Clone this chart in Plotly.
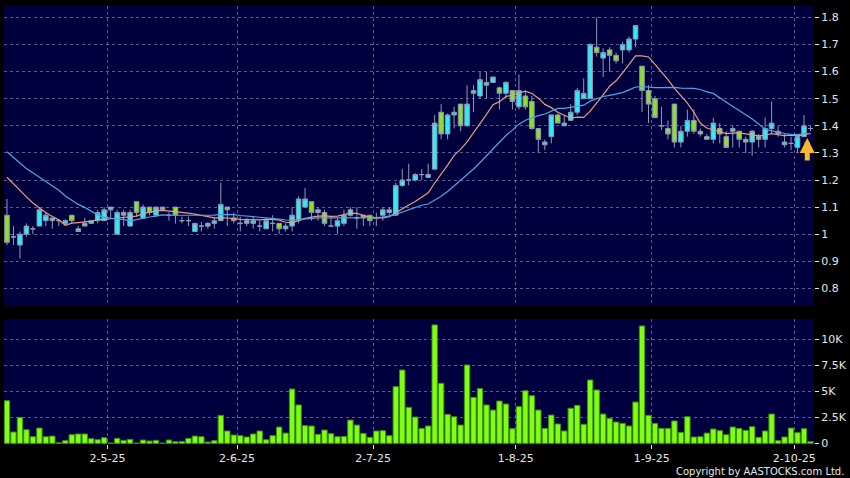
import pandas as pd
import plotly.graph_objects as go

# ---------------- data ----------------
hk_holidays = ["2025-04-18", "2025-04-21", "2025-05-01", "2025-05-05", "2025-07-01", "2025-10-01"]
dates = [d for d in pd.bdate_range("2025-04-07", "2025-10-06") if d.strftime("%Y-%m-%d") not in hk_holidays]

opens = [1.07, 0.99, 0.96, 1.00, 1.02, 1.03, 1.05, 1.05, 1.05, 1.04,
         1.07, 1.02, 1.04, 1.04, 1.05, 1.05, 1.09, 1.00, 1.08, 1.03,
         1.12, 1.06, 1.10, 1.07, 1.09, 1.07, 1.10, 1.05, 1.05, 1.01,
         1.03, 1.03, 1.04, 1.05, 1.10, 1.06, 1.04, 1.05, 1.04, 1.03,
         1.02, 1.04, 1.04, 1.02, 1.03, 1.05, 1.10, 1.12, 1.08, 1.08,
         1.03, 1.03, 1.04, 1.07, 1.06, 1.07, 1.07, 1.06, 1.07, 1.08,
         1.07, 1.18, 1.20, 1.20, 1.22, 1.21, 1.24, 1.45, 1.37, 1.44,
         1.48, 1.40, 1.53, 1.51, 1.55, 1.56, 1.54, 1.52, 1.53, 1.47,
         1.51, 1.49, 1.39, 1.33, 1.36, 1.44, 1.40, 1.42, 1.45, 1.50,
         1.50, 1.69, 1.65, 1.68, 1.66, 1.68, 1.68, 1.72, 1.62, 1.53,
         1.50, 1.40, 1.39, 1.48, 1.34, 1.38, 1.42, 1.38, 1.36, 1.35,
         1.39, 1.36, 1.38, 1.38, 1.35, 1.34, 1.36, 1.35, 1.39, 1.38,
         1.33, 1.335, 1.32, 1.36, 1.39]
highs = [1.13, 1.03, 1.01, 1.04, 1.03, 1.10, 1.08, 1.06, 1.05, 1.055,
         1.07, 1.03, 1.06, 1.05, 1.09, 1.10, 1.10, 1.09, 1.09, 1.09,
         1.12, 1.11, 1.10, 1.10, 1.10, 1.08, 1.10, 1.065, 1.065, 1.04,
         1.045, 1.045, 1.06, 1.19, 1.10, 1.08, 1.065, 1.06, 1.065, 1.05,
         1.06, 1.07, 1.04, 1.04, 1.10, 1.14, 1.17, 1.12, 1.10, 1.09,
         1.065, 1.06, 1.09, 1.10, 1.10, 1.07, 1.07, 1.08, 1.10, 1.10,
         1.19, 1.24, 1.26, 1.225, 1.24, 1.26, 1.44, 1.48, 1.445, 1.47,
         1.48, 1.55, 1.55, 1.60, 1.60, 1.58, 1.545, 1.565, 1.53, 1.59,
         1.53, 1.51, 1.39, 1.35, 1.44, 1.445, 1.44, 1.48, 1.54, 1.575,
         1.705, 1.80, 1.686, 1.69, 1.67, 1.71, 1.73, 1.77, 1.62, 1.55,
         1.51, 1.47, 1.42, 1.48, 1.40, 1.46, 1.46, 1.39, 1.37, 1.43,
         1.41, 1.38, 1.40, 1.38, 1.36, 1.385, 1.37, 1.43, 1.49, 1.40,
         1.37, 1.36, 1.37, 1.44, 1.40]
lows = [0.96, 0.96, 0.91, 0.99, 1.00, 1.03, 1.03, 1.02, 1.03, 1.03,
        1.04, 1.01, 1.03, 1.04, 1.04, 1.05, 1.06, 1.00, 1.03, 1.03,
        1.065, 1.06, 1.07, 1.07, 1.09, 1.05, 1.04, 1.04, 1.03, 1.01,
        1.01, 1.02, 1.02, 1.05, 1.03, 1.04, 1.01, 1.03, 1.02, 1.01,
        1.02, 1.01, 1.00, 1.01, 1.01, 1.04, 1.10, 1.05, 1.05, 1.03,
        1.03, 1.00, 1.03, 1.065, 1.02, 1.03, 1.03, 1.03, 1.05, 1.065,
        1.07, 1.175, 1.18, 1.195, 1.20, 1.21, 1.24, 1.35, 1.35, 1.39,
        1.38, 1.40, 1.45, 1.50, 1.50, 1.56, 1.46, 1.50, 1.46, 1.46,
        1.46, 1.385, 1.30, 1.31, 1.335, 1.41, 1.40, 1.42, 1.44, 1.50,
        1.50, 1.655, 1.58, 1.60, 1.63, 1.63, 1.67, 1.69, 1.45, 1.41,
        1.43, 1.385, 1.35, 1.32, 1.32, 1.36, 1.37, 1.36, 1.35, 1.335,
        1.335, 1.32, 1.32, 1.32, 1.30, 1.29, 1.32, 1.32, 1.37, 1.36,
        1.32, 1.31, 1.30, 1.36, 1.38]
closes = [0.97, 0.99, 1.00, 1.03, 1.02, 1.09, 1.07, 1.06, 1.05, 1.05,
          1.05, 1.01, 1.03, 1.05, 1.08, 1.09, 1.10, 1.08, 1.07, 1.08,
          1.08, 1.10, 1.08, 1.10, 1.10, 1.07, 1.07, 1.05, 1.05, 1.04,
          1.03, 1.04, 1.05, 1.11, 1.09, 1.05, 1.04, 1.04, 1.05, 1.03,
          1.05, 1.04, 1.02, 1.03, 1.07, 1.13, 1.13, 1.08, 1.09, 1.04,
          1.03, 1.05, 1.07, 1.09, 1.06, 1.06, 1.05, 1.06, 1.09, 1.09,
          1.18, 1.20, 1.20, 1.22, 1.22, 1.22, 1.41, 1.37, 1.44, 1.45,
          1.40, 1.48, 1.52, 1.57, 1.56, 1.58, 1.52, 1.56, 1.49, 1.53,
          1.47, 1.39, 1.35, 1.34, 1.44, 1.41, 1.41, 1.45, 1.53, 1.52,
          1.70, 1.67, 1.67, 1.66, 1.64, 1.70, 1.72, 1.77, 1.53, 1.48,
          1.43, 1.40, 1.37, 1.34, 1.38, 1.42, 1.38, 1.37, 1.35, 1.41,
          1.37, 1.32, 1.39, 1.35, 1.34, 1.38, 1.35, 1.39, 1.41, 1.37,
          1.34, 1.335, 1.36, 1.40, 1.39]
volumes = [4100, 1090, 2500, 1310, 640, 1470, 640, 700, 60, 260,
           830, 900, 900, 450, 350, 545, 30, 480, 290, 385,
           30, 320, 225, 290, 30, 320, 160, 190, 480, 700,
           640, 130, 260, 2690, 1190, 800, 740, 610, 900, 1190,
           350, 740, 1570, 990, 5220, 3690, 1700, 1670, 870, 1280,
           930, 640, 670, 2240, 1760, 960, 580, 1190, 1220, 740,
           5450, 7050, 3460, 2530, 1440, 1670, 11380, 5770, 2790, 2560,
           1760, 7530, 4420, 5260, 3690, 3200, 4070, 3780, 1410, 3530,
           5060, 4580, 3200, 1440, 2720, 1860, 1190, 3370, 3650, 1830,
           6090, 5130, 2820, 2400, 2050, 1920, 1670, 3970, 11280, 2690,
           1920, 1440, 1440, 2150, 1060, 2560, 610, 640, 990, 1380,
           1220, 830, 1570, 1440, 1250, 1600, 580, 1190, 2820, 260,
           610, 1470, 1030, 1410, 160]
# moving-average values at the start of the window (history before the window)
ma10_lead = [1.21, 1.185, 1.163, 1.138, 1.115, 1.097, 1.079, 1.065, 1.053]
ma20_lead = [1.304, 1.285, 1.263, 1.242, 1.226, 1.211, 1.197, 1.180, 1.162, 1.141,
             1.125, 1.110, 1.099, 1.086, 1.071, 1.062, 1.058, 1.056, 1.055]

price_ticks = [0.8, 0.9, 1.0, 1.1, 1.2, 1.3, 1.4, 1.5, 1.6, 1.7, 1.8]
price_tick_text = ["0.8", "0.9", "1", "1.1", "1.2", "1.3", "1.4", "1.5", "1.6", "1.7", "1.8"]
vol_ticks = [0, 2500, 5000, 7500, 10000]
vol_tick_text = ["0", "2.5K", "5K", "7.5K", "10K"]
month_labels = ["2-5-25", "2-6-25", "2-7-25", "1-8-25", "1-9-25", "2-10-25"]
signal_price = 1.355

# ---------------- derived ----------------
n = len(dates)
idx = list(range(n))
cs = pd.Series(closes)
ma10 = list(ma10_lead) + list(cs.rolling(10).mean().iloc[len(ma10_lead):])
ma20 = list(ma20_lead) + list(cs.rolling(20).mean().iloc[len(ma20_lead):])

# first trading day of each month (after the first month in view) -> boundary before it
month_starts = [i for i in range(1, n) if dates[i].month != dates[i - 1].month]
month_tickvals = [i - 0.5 for i in month_starts]

BG = "#00003F"
GRID = "rgba(150,150,210,0.6)"
TXT = "#E6E6E6"
FONT = "DejaVu Sans"

fig = go.Figure()
fig.add_trace(go.Candlestick(
    x=idx, open=opens, high=highs, low=lows, close=closes,
    increasing=dict(fillcolor="#30EAF6", line=dict(color="#8E9AB2", width=1)),
    decreasing=dict(fillcolor="#8CE02A", line=dict(color="#8E9AB2", width=1)),
    whiskerwidth=0, xaxis="x", yaxis="y", showlegend=False,
))
fig.add_trace(go.Scatter(x=idx, y=ma10, mode="lines", line=dict(color="#E89C7C", width=1.2),
                         xaxis="x", yaxis="y", showlegend=False))
fig.add_trace(go.Scatter(x=idx, y=ma20, mode="lines", line=dict(color="#4AA6E4", width=1.2),
                         xaxis="x", yaxis="y", showlegend=False))
fig.add_trace(go.Bar(x=idx, y=volumes, marker=dict(color="#80FF12", line=dict(color="#3F8F12", width=1)),
                     xaxis="x2", yaxis="y2", showlegend=False))

xr = [-0.46, n - 0.46]
common_x = dict(range=xr, tickmode="array", tickvals=month_tickvals, showgrid=True, gridcolor=GRID,
                griddash="3px,3px", gridwidth=1, zeroline=False, showline=False, fixedrange=True)
fig.update_layout(
    width=850, height=478,
    margin=dict(l=4, r=36, t=6, b=34),
    paper_bgcolor="black", plot_bgcolor=BG,
    font=dict(family=FONT, size=11, color=TXT),
    bargap=0.17, boxgap=0.3, boxgroupgap=0,
    xaxis=dict(domain=[0, 1], anchor="y", showticklabels=False, ticks="", rangeslider=dict(visible=False),
               **common_x),
    xaxis2=dict(domain=[0, 1], anchor="y2", ticktext=month_labels, showticklabels=True, ticks="outside",
                ticklen=4, tickcolor=TXT, tickfont=dict(family=FONT, size=11, color=TXT), **common_x),
    yaxis=dict(domain=[0.315, 1], side="right", range=[0.735, 1.842], tickmode="array",
               tickvals=price_ticks, ticktext=price_tick_text, ticks="outside", ticklen=4, tickcolor=TXT,
               showgrid=True, gridcolor=GRID, griddash="3px,3px", zeroline=False, showline=False,
               tickfont=dict(family=FONT, size=11, color=TXT)),
    yaxis2=dict(domain=[0, 0.2854], side="right", range=[-60, 11950], tickmode="array",
                tickvals=vol_ticks, ticktext=vol_tick_text, ticks="outside", ticklen=4, tickcolor=TXT,
                showgrid=True, gridcolor=GRID, griddash="3px,3px", zeroline=False, showline=False,
                tickfont=dict(family=FONT, size=11, color=TXT)),
    annotations=[
        dict(x=n - 1.5, y=signal_price, xref="x", yref="y", ax=0, ay=24, showarrow=True,
             arrowhead=2, arrowsize=0.6, arrowwidth=5, arrowcolor="#F7B82A", text=""),
        dict(x=1.0395, y=-0.062, xref="paper", yref="paper", xanchor="right", yanchor="middle",
             showarrow=False, text="Copyright by AASTOCKS.com Ltd.",
             font=dict(family=FONT, size=10, color=TXT)),
    ],
)

fig.write_html("out.html", config={"displayModeBar": False},
               post_script="document.body.style.margin='0';")
